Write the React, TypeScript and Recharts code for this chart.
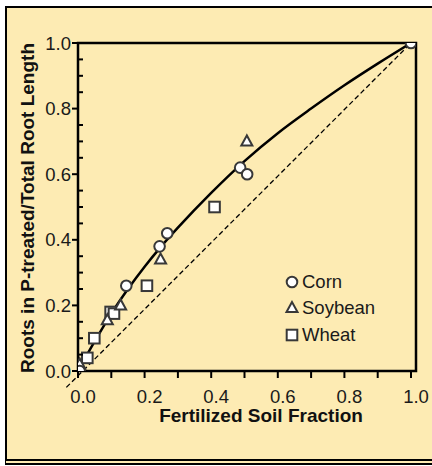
import { ComposedChart, Line, Scatter, XAxis, YAxis, ReferenceArea, ReferenceLine, Label } from 'recharts'

// fitted curve
const curveX = [0, 0.05, 0.1, 0.15, 0.2, 0.25, 0.3, 0.4, 0.5, 0.6, 0.7, 0.8, 0.9, 1.0]
const curveY = [0, 0.09, 0.175, 0.25, 0.318, 0.38, 0.437, 0.543, 0.64, 0.725, 0.8, 0.871, 0.937, 1.0]

const cornX = [0.005, 0.145, 0.245, 0.268, 0.487, 0.508, 1.0]
const cornY = [0, 0.26, 0.38, 0.42, 0.62, 0.6, 1.0]
const soyX = [0.005, 0.088, 0.128, 0.248, 0.507]
const soyY = [0.02, 0.155, 0.2, 0.34, 0.7]
const wheatX = [0.028, 0.049, 0.098, 0.108, 0.207, 0.41]
const wheatY = [0.04, 0.1, 0.18, 0.175, 0.26, 0.5]

// 1:1 line, runs a little past the origin
const oneToOne = [{ x: -0.035, y: -0.05 }, { x: 1, y: 1 }]

const xTicks = [0, 0.1, 0.2, 0.3, 0.4, 0.5, 0.6, 0.7, 0.8, 0.9, 1.0]
const xMajor = [0, 0.2, 0.4, 0.6, 0.8, 1.0]
const yTicks = [0, 0.05, 0.1, 0.15, 0.2, 0.25, 0.3, 0.35, 0.4, 0.45, 0.5, 0.55, 0.6, 0.65, 0.7, 0.75, 0.8, 0.85, 0.9, 0.95, 1.0]
const yMajor = [0, 0.2, 0.4, 0.6, 0.8, 1.0]

const seriesNames = ['Corn', 'Soybean', 'Wheat']

const toPoints = (xs: number[], ys: number[]) => xs.map((x, i) => ({ x, y: ys[i] }))

const BG = '#fdebb3'
const FONT = "'Liberation Sans', Arial, sans-serif"
const MARK = '#383838'

const Circle = ({ cx, cy }: any) => (
  <circle cx={cx} cy={cy} r={5.3} fill="#fff" stroke={MARK} strokeWidth={2} />
)
const Triangle = ({ cx, cy }: any) => (
  <polygon points={`${cx},${cy - 6} ${cx - 5.5},${cy + 4} ${cx + 5.5},${cy + 4}`} fill="#fff" stroke={MARK} strokeWidth={2} />
)
const Square = ({ cx, cy }: any) => (
  <rect x={cx - 5.3} y={cy - 5.3} width={10.6} height={10.6} fill="#fff" stroke={MARK} strokeWidth={2} />
)

const XTick = ({ x, y, payload }: any) => (
  <g>
    <line x1={x} x2={x} y1={y} y2={y + 7} stroke="#000" strokeWidth={2} />
    {xMajor.includes(payload.value) && (
      <text x={x + 5} y={y + 31.5} textAnchor="middle" fontSize={18.5} fontFamily={FONT} fill="#1a1a1a">
        {payload.value.toFixed(1)}
      </text>
    )}
  </g>
)

const YTick = ({ x, y, payload }: any) => {
  const major = yMajor.includes(payload.value)
  return (
    <g>
      {major
        ? <line x1={x - 6} x2={x} y1={y} y2={y} stroke="#000" strokeWidth={2} />
        : <line x1={x} x2={x + 5} y1={y} y2={y} stroke="#000" strokeWidth={2} />}
      {major && (
        <text x={x - 7} y={y + 6.5} textAnchor="end" fontSize={18.5} fontFamily={FONT} fill="#1a1a1a">
          {payload.value.toFixed(1)}
        </text>
      )}
    </g>
  )
}

const legendMarks = [Circle, Triangle, Square]

export default function App() {
  return (
    <div style={{ position: 'absolute', left: 0, top: 0, width: 432, height: 466, background: '#fff', overflow: 'hidden' }}>
      <div style={{ position: 'absolute', left: 5, top: 6, width: 440, height: 451, background: BG, borderLeft: '2px solid #000', borderTop: '2px solid #000', borderBottom: '6px double #000' }} />
      <div style={{ position: 'absolute', left: 0, top: 0 }}>
        <ComposedChart width={432} height={466} margin={{ top: 43, right: 16, bottom: 0, left: 8 }}>
          <XAxis dataKey="x" type="number" domain={[0, 1.015]} ticks={xTicks} interval={0}
            tick={<XTick />} tickSize={0} tickMargin={0} tickLine={false} axisLine={false} height={95} allowDataOverflow>
            <Label value="Fertilized Soil Fraction" position="center" dx={14} dy={-3}
              style={{ fontSize: 19, fontWeight: 'bold', fontFamily: FONT, fill: '#111' }} />
          </XAxis>
          <YAxis dataKey="y" type="number" domain={[0, 1]} ticks={yTicks} interval={0}
            tick={<YTick />} tickSize={0} tickMargin={0} tickLine={false} axisLine={false} width={70} allowDataOverflow>
            <Label value="Roots in P-treated/Total Root Length" angle={-90} position="center" dx={-16} dy={1}
              style={{ fontSize: 19, fontWeight: 'bold', fontFamily: FONT, fill: '#111', textAnchor: 'middle' }} />
          </YAxis>

          <ReferenceArea x1={0} x2={1.015} y1={0} y2={1} fill="none" stroke="#000" strokeWidth={2.5} ifOverflow="visible" />

          <Scatter name={seriesNames[2]} data={toPoints(wheatX, wheatY)} shape={<Square />} isAnimationActive={false} />
          <Scatter name={seriesNames[1]} data={toPoints(soyX, soyY)} shape={<Triangle />} isAnimationActive={false} />
          <Scatter name={seriesNames[0]} data={toPoints(cornX, cornY)} shape={<Circle />} isAnimationActive={false} />

          <ReferenceLine segment={oneToOne} stroke="#000" strokeWidth={1.3} strokeDasharray="5 3" ifOverflow="visible" />
          <Line data={toPoints(curveX, curveY)} dataKey="y" type="monotone" stroke="#000" strokeWidth={2.5}
            dot={false} activeDot={false} isAnimationActive={false} />
        </ComposedChart>
      </div>
      {seriesNames.map((name, i) => {
        const Mark = legendMarks[i]
        return (
          <div key={name} style={{ position: 'absolute', left: 284, top: 271 + i * 26.3, height: 22, display: 'flex', alignItems: 'center' }}>
            <svg width={16} height={22}><Mark cx={8} cy={11} /></svg>
            <span style={{ marginLeft: 2, fontSize: 18.5, fontFamily: FONT, color: '#1a1a1a' }}>{name}</span>
          </div>
        )
      })}
    </div>
  )
}
